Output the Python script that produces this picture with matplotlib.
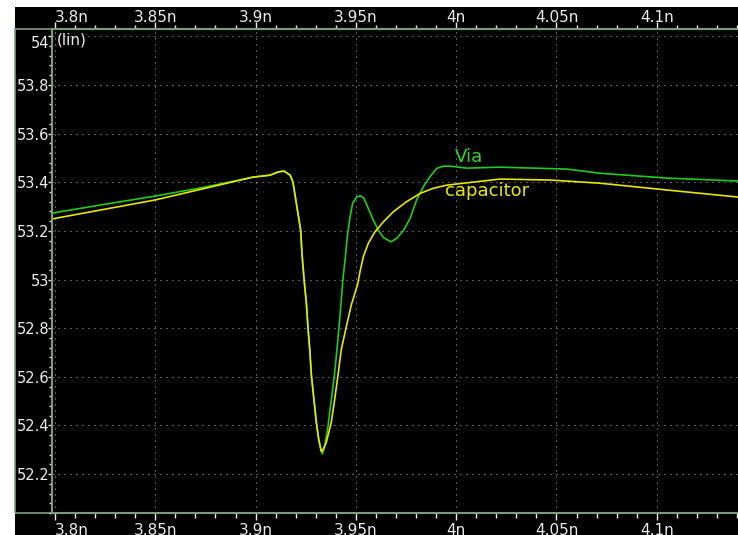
import matplotlib
matplotlib.use("Agg")
import matplotlib.pyplot as plt
from matplotlib.patches import Rectangle
from matplotlib.ticker import FixedLocator, MultipleLocator

# time axis in ns, voltage in V
via_t = [3.7985, 3.8224, 3.8499, 3.8748, 3.8987, 3.9072, 3.9112, 3.9142, 3.9172,
         3.9186, 3.9203, 3.9215, 3.9225, 3.9231, 3.9241, 3.9253, 3.9261, 3.9270,
         3.9278, 3.9291, 3.9303, 3.9315, 3.9325, 3.9333, 3.9344, 3.9361, 3.9369,
         3.9382, 3.9394, 3.9407, 3.9416, 3.9427, 3.9436, 3.9446, 3.9457, 3.9471,
         3.9484, 3.9504, 3.9524, 3.9540, 3.9562, 3.9587, 3.9612, 3.9637, 3.9675,
         3.9703, 3.9736, 3.9770, 3.9803, 3.9836, 3.9869, 3.9903, 3.9936, 3.9969,
         4.0054, 4.0218, 4.0552, 4.0717, 4.1051, 4.1405]
via_v = [53.273, 53.306, 53.343, 53.380, 53.421, 53.429, 53.442, 53.446, 53.429,
         53.402, 53.314, 53.253, 53.200, 53.109, 53.006, 52.904, 52.805, 52.711,
         52.608, 52.505, 52.411, 52.341, 52.300, 52.283, 52.313, 52.396, 52.452,
         52.534, 52.616, 52.724, 52.806, 52.916, 53.006, 53.080, 53.176, 53.258,
         53.314, 53.340, 53.344, 53.334, 53.292, 53.244, 53.203, 53.173, 53.155,
         53.169, 53.200, 53.251, 53.327, 53.381, 53.422, 53.457, 53.466, 53.466,
         53.458, 53.462, 53.454, 53.437, 53.417, 53.405]

cap_t = [3.7985, 3.8499, 3.8987, 3.9072, 3.9112, 3.9142, 3.9172, 3.9186, 3.9203,
         3.9215, 3.9225, 3.9231, 3.9241, 3.9253, 3.9261, 3.9270, 3.9278, 3.9291,
         3.9303, 3.9315, 3.9325, 3.9328, 3.9336, 3.9352, 3.9377, 3.9394, 3.9411,
         3.9427, 3.9452, 3.9477, 3.9509, 3.9520, 3.9537, 3.9562, 3.9595, 3.9637,
         3.9686, 3.9753, 3.9820, 3.9886, 3.9953, 4.0218, 4.0468, 4.0717, 4.1051,
         4.1405]
cap_v = [53.249, 53.327, 53.421, 53.429, 53.442, 53.446, 53.429, 53.402, 53.314,
         53.253, 53.200, 53.109, 53.006, 52.904, 52.805, 52.711, 52.608, 52.505,
         52.411, 52.341, 52.304, 52.293, 52.300, 52.329, 52.411, 52.505, 52.608,
         52.711, 52.805, 52.895, 52.981, 53.030, 53.094, 53.149, 53.196, 53.237,
         53.278, 53.320, 53.354, 53.375, 53.388, 53.413, 53.409, 53.396, 53.368,
         53.339]

x_ticks = [3.80, 3.85, 3.90, 3.95, 4.00, 4.05, 4.10]
x_labels = ["3.8n", "3.85n", "3.9n", "3.95n", "4n", "4.05n", "4.1n"]
y_ticks = [52.2, 52.4, 52.6, 52.8, 53.0, 53.2, 53.4, 53.6, 53.8, 54.0]
y_labels = ["52.2", "52.4", "52.6", "52.8", "53", "53.2", "53.4", "53.6", "53.8", "54"]

W, H = 738, 535
frame = "#7d9c7d"
txt = "#ececec"
green = "#1fcc1f"
yellow = "#e6e600"

plt.rcParams["font.family"] = "DejaVu Sans"
fig = plt.figure(figsize=(W / 100, H / 100), dpi=100, facecolor="white")

# black panel behind the plot, with the outer frame line
fig.patches.append(Rectangle((15 / W, 0), 1, (H - 7) / H, transform=fig.transFigure,
                             facecolor="black", edgecolor="none", zorder=-2))
fig.patches.append(Rectangle((15 / W, 22 / H), 1, 484 / H, transform=fig.transFigure,
                             facecolor="none", edgecolor=frame, lw=1.2, zorder=-1))

ax = fig.add_axes([52 / W, 22 / H, (W - 52) / W, 484 / H])
ax.set_facecolor("black")

ax.plot(via_t, via_v, color=green, lw=1.2)
ax.plot(cap_t, cap_v, color=yellow, lw=1.2)

ax.set_xlim(3.7985, 4.1405)
ax.set_ylim(52.04, 54.03)

# bottom time axis
ax.xaxis.set_major_locator(FixedLocator(x_ticks))
ax.set_xticklabels(x_labels)
ax.xaxis.set_minor_locator(MultipleLocator(0.01))
ax.tick_params(axis="x", which="both", top=False, direction="out", colors=txt,
               labelsize=11, pad=2.5)
ax.tick_params(axis="x", which="major", length=5, width=1)
ax.tick_params(axis="x", which="minor", length=3.5, width=1)
ax.xaxis.get_major_ticks()[0].label1.set_ha("left")

# same time axis repeated on top
top = ax.secondary_xaxis("top")
top.xaxis.set_major_locator(FixedLocator(x_ticks))
top.set_xticklabels(x_labels)
top.xaxis.set_minor_locator(MultipleLocator(0.01))
top.tick_params(axis="x", which="both", direction="out", colors=txt,
                labelsize=11, pad=-2)
top.tick_params(axis="x", which="major", length=5, width=1)
top.tick_params(axis="x", which="minor", length=3, width=1)
top.xaxis.get_major_ticks()[0].label2.set_ha("left")
top.spines["top"].set_color(frame)
top.spines["top"].set_linewidth(1.5)

ax.yaxis.set_major_locator(FixedLocator(y_ticks))
ax.set_yticklabels(y_labels)
ax.yaxis.set_minor_locator(MultipleLocator(0.04))
ax.tick_params(axis="y", which="both", direction="out", colors=txt, labelsize=10.5, pad=-1)
ax.tick_params(axis="y", which="major", length=3, width=1)
ax.tick_params(axis="y", which="minor", length=2.2, width=1)
ax.get_yticklabels()[-1].set_va("top")

for side in ["top", "bottom", "left"]:
    ax.spines[side].set_color(frame)
    ax.spines[side].set_linewidth(1.5)
ax.spines["right"].set_visible(False)

ax.grid(True, which="major", color="#b4b4b4", lw=0.72, linestyle=(0, (1, 5)))

ax.text(3.801, 53.985, "(lin)", color=txt, fontsize=11, va="center", ha="left")
ax.text(3.9995, 53.505, "Via", color="#2ed62e", fontsize=13, va="center", ha="left")
ax.text(3.9945, 53.365, "capacitor", color="#e8e800", fontsize=13, va="center", ha="left")

fig.savefig("out.png", dpi=100, facecolor="white")
